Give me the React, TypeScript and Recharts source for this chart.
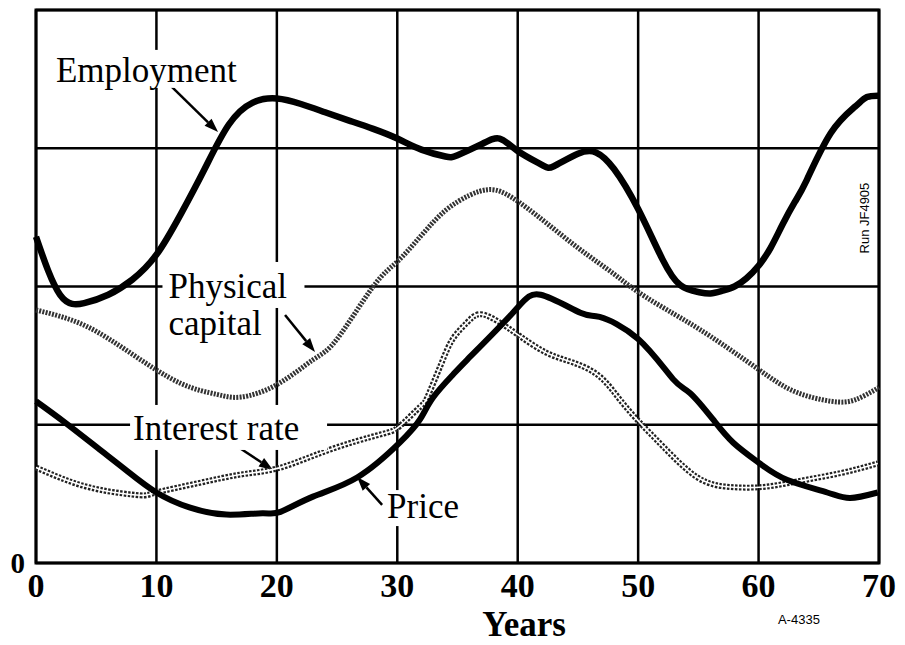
import {
  CartesianGrid,
  Line,
  LineChart,
  ReferenceArea,
  ReferenceDot,
  ReferenceLine,
  XAxis,
  YAxis,
} from "recharts";

// years / values
const employmentYears = [0, 2, 4, 6, 8, 10, 12, 14, 16, 18, 20, 22, 24, 26, 28, 30, 32, 34, 35, 37, 38.5, 40, 42, 43, 45, 46.5, 48, 50, 52, 53.5, 55, 56, 57, 58, 59, 60, 61, 62, 63, 64, 66, 68, 69, 70];
const employmentValues = [2.36, 1.94, 1.88, 1.94, 2.05, 2.23, 2.52, 2.85, 3.17, 3.33, 3.36, 3.32, 3.26, 3.2, 3.14, 3.07, 2.99, 2.94, 2.95, 3.03, 3.07, 2.98, 2.88, 2.87, 2.96, 2.97, 2.85, 2.56, 2.2, 2.01, 1.96, 1.95, 1.97, 2.0, 2.06, 2.15, 2.28, 2.45, 2.61, 2.77, 3.11, 3.3, 3.37, 3.38];

const capitalYears = [0, 4, 8, 12, 15, 17, 20, 23, 25, 28, 30, 32, 34, 36, 37.5, 39, 41.5, 45, 48, 50, 53, 56, 60, 63, 66, 68, 70];
const capitalValues = [1.83, 1.72, 1.51, 1.3, 1.22, 1.2, 1.29, 1.47, 1.62, 2.0, 2.18, 2.37, 2.55, 2.66, 2.7, 2.67, 2.52, 2.28, 2.09, 1.96, 1.8, 1.64, 1.4, 1.24, 1.17, 1.18, 1.27];

const priceYears = [0, 2.5, 5.3, 7.5, 10, 12.8, 15.8, 18.8, 20.3, 23, 26.7, 30.2, 31.9, 33, 34.6, 35.8, 39.6, 41.9, 45.2, 46.8, 50, 52.9, 54.3, 56.2, 57.9, 60.1, 62.4, 65.7, 67.6, 69.9];
const priceValues = [1.17, 1.01, 0.82, 0.67, 0.51, 0.4, 0.35, 0.36, 0.37, 0.48, 0.62, 0.87, 1.04, 1.2, 1.36, 1.47, 1.81, 1.94, 1.81, 1.78, 1.62, 1.33, 1.23, 1.04, 0.87, 0.72, 0.6, 0.51, 0.47, 0.51];

const interestYears = [0, 2.5, 5.3, 8.6, 10, 13.6, 17, 20.3, 24.4, 28.6, 30.2, 31.9, 32.5, 33.6, 34.6, 35.8, 36.9, 38.5, 40.2, 42.4, 44.6, 46.8, 48.5, 50.2, 52.1, 54.9, 57.6, 60.4, 63.2, 66.8, 69.9];
const interestValues = [0.69, 0.6, 0.53, 0.49, 0.51, 0.58, 0.64, 0.69, 0.82, 0.93, 0.99, 1.13, 1.2, 1.43, 1.62, 1.74, 1.8, 1.74, 1.64, 1.52, 1.45, 1.35, 1.18, 1.01, 0.84, 0.62, 0.55, 0.55, 0.59, 0.65, 0.72];

const xTicks = [0, 10, 20, 30, 40, 50, 60, 70];
const yTicks = [0, 1, 2, 3, 4];

const toPoints = (xs: number[], ys: number[]) => xs.map((year, i) => ({ year, value: ys[i] }));

const SERIF = '"Liberation Serif", "Times New Roman", serif';
const SANS = '"Liberation Sans", Arial, sans-serif';

const Arrow = (props: any) => {
  const { x1, y1, x2, y2 } = props;
  const a = Math.atan2(y2 - y1, x2 - x1);
  const len = 14;
  const half = 5;
  const bx = x2 - len * Math.cos(a);
  const by = y2 - len * Math.sin(a);
  const px = -Math.sin(a) * half;
  const py = Math.cos(a) * half;
  return (
    <g>
      <line x1={x1} y1={y1} x2={bx} y2={by} stroke="#000" strokeWidth={2.5} />
      <polygon points={`${x2},${y2} ${bx + px},${by + py} ${bx - px},${by - py}`} fill="#000" />
    </g>
  );
};

// label text with white boxes behind it that break the grid lines
type Box = [number, number, number, number];
const textLabel = (lines: string[], boxes: Box[]) => (props: any) => {
  const { cx, cy } = props;
  return (
    <g>
      {boxes.map(([l, t, r, b], i) => (
        <rect key={"b" + i} x={cx + l} y={cy + t} width={r - l} height={b - t} fill="#fff" />
      ))}
      {lines.map((s, i) => (
        <text key={i} x={cx} y={cy + i * 37} fontFamily={SERIF} fontSize={35} fill="#000">
          {s}
        </text>
      ))}
    </g>
  );
};

const runLabel = (props: any) => {
  const { cx, cy } = props;
  return (
    <text
      x={cx}
      y={cy}
      transform={`rotate(-90 ${cx} ${cy})`}
      textAnchor="middle"
      dominantBaseline="central"
      fontFamily={SANS}
      fontSize={13}
      fill="#000"
    >
      Run JF4905
    </text>
  );
};

const axisTitle = (props: any) => {
  const vb = props.viewBox;
  return (
    <g>
      <text x={vb.x + vb.width * 0.579} y={vb.y + 73} textAnchor="middle" fontFamily={SERIF} fontWeight="bold" fontSize={35} fill="#000">
        Years
      </text>
      <text x={vb.x + vb.width * 0.905} y={vb.y + 61} textAnchor="middle" fontFamily={SANS} fontSize={13} fill="#000">
        A-4335
      </text>
    </g>
  );
};

export default function App() {
  return (
    <LineChart width={897} height={645} margin={{ top: 2, right: 26, bottom: 0, left: 0 }}>
      <CartesianGrid stroke="#000" strokeWidth={2.5} />
      <XAxis
        dataKey="year"
        type="number"
        domain={[0, 70]}
        ticks={xTicks}
        height={90}
        axisLine={false}
        tickLine={false}
        tickMargin={4}
        tick={{ fontFamily: SERIF, fontWeight: "bold", fontSize: 34, fill: "#000" }}
        label={{ content: axisTitle }}
      />
      <YAxis
        type="number"
        domain={[0, 4]}
        ticks={yTicks}
        width={28}
        axisLine={false}
        tickLine={false}
        tickMargin={5}
        tickFormatter={(v: number) => (v === 0 ? "0" : "")}
        tick={{ fontFamily: SERIF, fontWeight: "bold", fontSize: 29, fill: "#000" }}
      />
      <ReferenceArea x1={0} x2={70} y1={0} y2={4} fill="none" fillOpacity={0} stroke="#000" strokeWidth={3} />

      <ReferenceDot x={1.66} y={3.48} r={0} shape={textLabel(["Employment"], [[-4, -32, 188, 6]])} />
      <ReferenceDot x={11.0} y={1.917} r={0} shape={textLabel(["Physical", "capital"], [[-6, -36, 136, 10], [-6, 10, 100, 48]])} />
      <ReferenceDot x={8.06} y={0.89} r={0} shape={textLabel(["Interest rate"], [[-3, -35, 194, 10]])} />
      <ReferenceDot x={29.15} y={0.325} r={0} shape={textLabel(["Price"], [[-4, -28, 77, 8]])} />
      <ReferenceDot x={68.77} y={2.495} r={0} shape={runLabel} />

      <ReferenceLine segment={[{ x: 11.13, y: 3.457 }, { x: 15.12, y: 3.117 }]} shape={Arrow} />
      <ReferenceLine segment={[{ x: 20.68, y: 1.794 }, { x: 23.17, y: 1.526 }]} shape={Arrow} />
      <ReferenceLine segment={[{ x: 16.28, y: 0.868 }, { x: 19.68, y: 0.673 }]} shape={Arrow} />
      <ReferenceLine segment={[{ x: 28.74, y: 0.42 }, { x: 26.66, y: 0.622 }]} shape={Arrow} />

      <Line data={toPoints(interestYears, interestValues)} dataKey="value" type="natural" stroke="#222" strokeWidth={6} strokeDasharray="2.5 1.5" dot={false} isAnimationActive={false} />
      <Line data={toPoints(interestYears, interestValues)} dataKey="value" type="natural" stroke="#fff" strokeWidth={1.6} dot={false} isAnimationActive={false} />
      <Line data={toPoints(capitalYears, capitalValues)} dataKey="value" type="natural" stroke="#333" strokeWidth={5} strokeDasharray="2 1.3" dot={false} isAnimationActive={false} />
      <Line data={toPoints(employmentYears, employmentValues)} dataKey="value" type="natural" stroke="#000" strokeWidth={6.5} dot={false} isAnimationActive={false} />
      <Line data={toPoints(priceYears, priceValues)} dataKey="value" type="natural" stroke="#000" strokeWidth={6} dot={false} isAnimationActive={false} />
    </LineChart>
  );
}
